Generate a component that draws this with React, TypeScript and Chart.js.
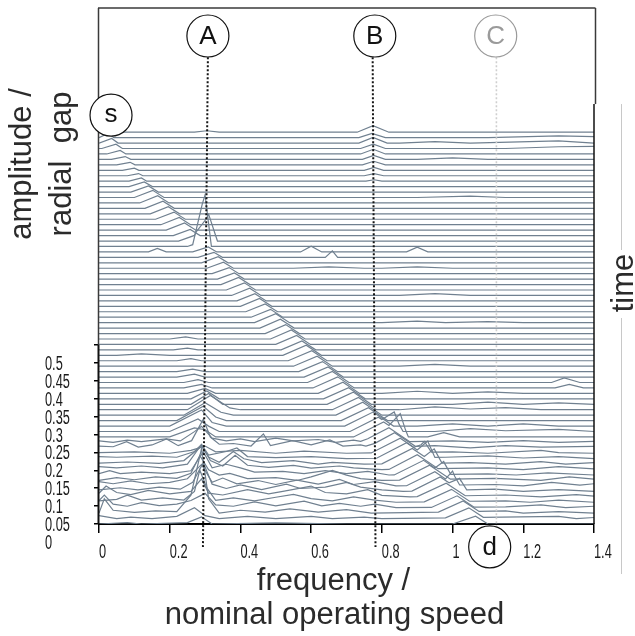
import React, { useEffect, useRef } from "react";
import { Chart, registerables } from "chart.js";
Chart.register(...registerables);

// ---------- data ----------
const TRACE_COUNT = 73; // spectra in the waterfall, index 0 = top
const TRACE_STEP = 0.0152; // vertical offset between successive spectra (amplitude units)

const xTicks = [0, 0.2, 0.4, 0.6, 0.8, 1, 1.2, 1.4];
const xTickLabels = ["0", "0.2", "0.4", "0.6", "0.8", "1", "1.2", "1.4"];
const yTicks = [0, 0.05, 0.1, 0.15, 0.2, 0.25, 0.3, 0.35, 0.4, 0.45, 0.5];
const yTickLabels = ["0", "0.05", "0.1", "0.15", "0.2", "0.25", "0.3", "0.35", "0.4", "0.45", "0.5"];

// sweeping component (s -> d): start, peak frequency, peak amplitude, end per spectrum
const sweepStart = [
  0, 0, 0, 0.008, 0.022, 0.035, 0.05, 0.066, 0.08, 0.085,
  0.085, 0.09, 0.1, 0.115, 0.13, 0.145, 0.16, 0.175, 0.19, 0.21,
  0.225, 0.25, 0.265, 0.28, 0.29, 0.305, 0.32, 0.335, 0.345, 0.36,
  0.375, 0.39, 0.4, 0.415, 0.43, 0.44, 0.455, 0.47, 0.485, 0.5,
  0.515, 0.52, 0.535, 0.55, 0.565, 0.58, 0.59, 0.605, 0.62, 0.635,
  0.645, 0.66, 0.67, 0.685, 0.695, 0.71, 0.72, 0.74, 0.755, 0.77,
  0.785, 0.8, 0.82, 0.835, 0.85, 0.87, 0.885, 0.9, 0.92, 0.94,
  0.96, 0.98, 1.0,
];
const sweepPeak = [
  0, 0.025, 0.036, 0.048, 0.06, 0.074, 0.088, 0.1, 0.112, 0.12,
  0.128, 0.14, 0.152, 0.166, 0.181, 0.196, 0.212, 0.227, 0.242, 0.258,
  0.274, 0.292, 0.309, 0.325, 0.337, 0.352, 0.368, 0.383, 0.395, 0.411,
  0.426, 0.441, 0.454, 0.47, 0.485, 0.5, 0.513, 0.528, 0.544, 0.559,
  0.574, 0.586, 0.602, 0.617, 0.632, 0.648, 0.66, 0.675, 0.69, 0.706,
  0.719, 0.734, 0.746, 0.762, 0.775, 0.79, 0.805, 0.82, 0.836, 0.852,
  0.87, 0.886, 0.9, 0.918, 0.935, 0.95, 0.965, 0.982, 0.997, 1.013,
  1.03, 1.046, 1.065,
];
const sweepAmp = [
  0, 0.012, 0.013, 0.012, 0.01, 0.008, 0.007, 0.006, 0.006, 0.009,
  0.013, 0.017, 0.02, 0.02, 0.02, 0.02, 0.02, 0.02, 0.02, 0.017,
  0.017, 0.014, 0.014, 0.014, 0.017, 0.017, 0.017, 0.017, 0.02, 0.02,
  0.02, 0.02, 0.022, 0.022, 0.022, 0.025, 0.025, 0.025, 0.025, 0.025,
  0.025, 0.028, 0.028, 0.028, 0.028, 0.028, 0.031, 0.031, 0.031, 0.031,
  0.034, 0.034, 0.036, 0.036, 0.039, 0.04, 0.042, 0.04, 0.04, 0.04,
  0.042, 0.042, 0.04, 0.04, 0.04, 0.038, 0.038, 0.036, 0.034, 0.032,
  0.03, 0.027, 0.022,
];
const sweepEnd = [
  0, 0.042, 0.054, 0.066, 0.076, 0.09, 0.102, 0.113, 0.124, 0.135,
  0.151, 0.168, 0.184, 0.198, 0.213, 0.228, 0.244, 0.259, 0.274, 0.286,
  0.302, 0.316, 0.333, 0.349, 0.365, 0.38, 0.396, 0.411, 0.427, 0.443,
  0.458, 0.473, 0.489, 0.505, 0.52, 0.539, 0.552, 0.567, 0.583, 0.598,
  0.613, 0.629, 0.645, 0.66, 0.675, 0.691, 0.707, 0.722, 0.737, 0.753,
  0.77, 0.785, 0.8, 0.816, 0.833, 0.849, 0.867, 0.879, 0.895, 0.911,
  0.932, 0.948, 0.959, 0.977, 0.994, 1.006, 1.021, 1.036, 1.048, 1.061,
  1.075, 1.087, 1.1,
];

// B component (spectrum index, [freq, amp, ...])
const bComponent: [number, number[]][] = [
  [0, [0.73, 0, 0.775, 0.018, 0.82, 0]],
  [1, [0.735, 0, 0.772, 0.012, 0.81, 0]],
  [2, [0.735, 0, 0.775, 0.016, 0.815, 0]],
  [3, [0.74, 0, 0.776, 0.012, 0.81, 0]],
  [4, [0.74, 0, 0.776, 0.013, 0.81, 0]],
  [5, [0.745, 0, 0.777, 0.011, 0.81, 0]],
  [6, [0.745, 0, 0.777, 0.01, 0.81, 0]],
  [7, [0.75, 0, 0.778, 0.008, 0.805, 0]],
  [8, [0.75, 0, 0.778, 0.006, 0.805, 0]],
  [9, [0.755, 0, 0.778, 0.004, 0.8, 0]],
];

// A component
const aComponent: [number, number[]][] = [
  [0, [0.27, 0, 0.305, 0.004, 0.34, 0]],
  [20, [0.27, 0, 0.31, 0.075, 0.335, 0]],
  [21, [0.265, 0, 0.3, 0.135, 0.318, 0]],
  [38, [0.2, 0, 0.245, 0.006, 0.28, 0]],
  [40, [0.21, 0, 0.25, 0.005, 0.28, 0]],
  [42, [0.22, 0, 0.26, 0.006, 0.29, 0]],
  [44, [0.22, 0, 0.265, 0.007, 0.3, 0]],
  [45, [0.22, 0, 0.27, 0.008, 0.3, 0]],
  [46, [0.24, 0, 0.28, 0.008, 0.31, 0]],
  [47, [0.24, 0, 0.29, 0.01, 0.32, 0]],
  [48, [0.25, 0, 0.3, 0.014, 0.33, 0]],
  [49, [0.26, 0, 0.305, 0.022, 0.34, 0]],
  [50, [0.26, 0, 0.31, 0.03, 0.35, 0]],
  [51, [0.25, 0, 0.315, 0.04, 0.37, 0.005, 0.4, 0]],
  [52, [0.24, 0, 0.3, 0.035, 0.345, 0.008, 0.38, 0]],
  [53, [0.22, 0, 0.295, 0.04, 0.33, 0.01, 0.36, 0]],
  [54, [0.2, 0, 0.29, 0.045, 0.32, 0.01, 0.36, 0]],
  [55, [0.2, 0, 0.28, 0.035, 0.31, 0.015, 0.34, 0]],
  [56, [0.2, 0, 0.27, 0.025, 0.3, 0.02, 0.33, 0]],
];

// small undulations and isolated components
const minorComponents: [number, number[]][] = [
  [1, [1.1, 0, 1.3, 0.005, 1.4, 0.003]],
  [2, [0.85, 0, 0.95, 0.004, 1.05, 0, 1.3, 0.006, 1.4, 0]],
  [3, [1.15, 0, 1.3, 0.005, 1.4, 0.006]],
  [5, [0.9, 0, 1.0, 0.004, 1.1, 0]],
  [12, [0.9, 0, 1.05, 0.004, 1.15, 0]],
  [22, [0.14, 0, 0.165, 0.01, 0.19, 0, 0.57, 0, 0.6, 0.016, 0.63, 0, 0.87, 0, 0.9, 0.013, 0.93, 0]],
  [23, [0.64, 0, 0.66, 0.018, 0.675, 0]],
  [25, [0.55, 0, 0.65, 0.004, 0.75, 0, 0.8, 0, 0.9, 0.004, 1.0, 0]],
  [30, [0.85, 0, 0.95, 0.005, 1.05, 0]],
  [35, [0.8, 0, 0.9, 0.004, 0.98, 0, 1.1, 0.003, 1.2, 0]],
  [41, [0.05, 0, 0.12, 0.004, 0.2, 0]],
  [43, [0.85, 0, 0.95, 0.005, 1.05, 0]],
  [46, [1.28, 0, 1.316, 0.013, 1.36, 0]],
  [47, [1.29, 0, 1.33, 0.01, 1.37, 0]],
  [48, [0.8, 0, 0.9, 0.006, 1.0, 0, 1.1, 0.004, 1.2, 0]],
  [50, [1.0, 0, 1.1, 0.006, 1.2, 0, 1.3, 0.004, 1.4, 0]],
  [51, [0.85, 0, 0.95, 0.008, 1.05, 0.002, 1.15, 0.006, 1.25, 0]],
  [54, [0.9, 0, 1.0, 0.006, 1.1, 0, 1.2, 0.006, 1.3, 0]],
  [55, [0.95, 0, 1.05, 0.008, 1.15, 0.002, 1.3, 0.006, 1.4, 0]],
  [56, [0.93, 0, 0.975, 0.012, 1.02, 0]],
  [55, [0.8, 0, 0.835, 0.045, 0.86, 0]],
  [56, [0.82, 0, 0.852, 0.055, 0.875, 0]],
  [59, [0.89, 0, 0.92, 0.03, 0.94, 0]],
  [60, [0.9, 0, 0.93, 0.045, 0.95, 0]],
  [61, [0.92, 0, 0.948, 0.04, 0.97, 0]],
  [63, [0.95, 0, 0.975, 0.035, 0.995, 0]],
  [65, [0.98, 0, 1.0, 0.035, 1.02, 0]],
  [66, [0.99, 0, 1.02, 0.032, 1.04, 0]],
];

// broadband spectra at the end of the run
const lateSpectra: [number, number[]][] = [
  [57, [0, 0.004, 0.04, 0, 0.08, 0.006, 0.12, 0.002, 0.19, 0.01, 0.23, 0.004, 0.27, 0.03, 0.29, 0.045, 0.32, 0.012, 0.36, 0.004, 0.4, 0.01, 0.44, 0.002, 0.5, 0.012, 0.55, 0.004, 0.62, 0.008, 0.67, 0, 0.72, 0.006, 0.76, 0, 1.0, 0.004, 1.1, 0, 1.2, 0.005, 1.3, 0, 1.4, 0.003]],
  [58, [0, 0.005, 0.04, 0.003, 0.078, 0.017, 0.111, 0.002, 0.15, 0.008, 0.191, 0.025, 0.224, 0.006, 0.262, 0.02, 0.295, 0.08, 0.315, 0.03, 0.34, 0.01, 0.38, 0.012, 0.43, 0.005, 0.465, 0.039, 0.485, 0.006, 0.548, 0.02, 0.6, 0.008, 0.653, 0.022, 0.69, 0.005, 0.74, 0.008, 0.78, 0, 0.95, 0.006, 1.05, 0, 1.15, 0.006, 1.25, 0.002, 1.4, 0.004]],
  [59, [0, 0.002, 0.1, 0.004, 0.2, 0, 0.26, 0.008, 0.3, 0.02, 0.33, 0.004, 0.4, 0.008, 0.5, 0, 0.58, 0.006, 0.7, 0, 1.0, 0.004, 1.1, 0, 1.25, 0.008, 1.3, 0.002, 1.4, 0]],
  [60, [0, 0.006, 0.05, 0.004, 0.15, 0.007, 0.22, 0.004, 0.27, 0.02, 0.29, 0.04, 0.31, 0.01, 0.36, 0.02, 0.39, 0.03, 0.42, 0.006, 0.5, 0.003, 0.6, 0.006, 0.7, 0, 0.98, 0.004, 1.1, 0.008, 1.2, 0.002, 1.3, 0.006, 1.4, 0]],
  [61, [0, 0.003, 0.08, 0.006, 0.17, 0.002, 0.24, 0.01, 0.29, 0.05, 0.31, 0.02, 0.34, 0.005, 0.38, 0.035, 0.41, 0.015, 0.46, 0.004, 0.55, 0.01, 0.62, 0, 0.66, 0.005, 0.75, 0, 1.05, 0.004, 1.15, 0, 1.25, 0.007, 1.32, 0, 1.4, 0.004]],
  [62, [0, 0.008, 0.05, 0.005, 0.12, 0.01, 0.18, 0.005, 0.25, 0.015, 0.29, 0.07, 0.315, 0.025, 0.35, 0.01, 0.385, 0.04, 0.42, 0.012, 0.48, 0.006, 0.55, 0.012, 0.6, 0.004, 0.68, 0.01, 0.72, 0.005, 0.8, 0, 1.1, 0.005, 1.2, 0, 1.3, 0.008, 1.4, 0.002]],
  [63, [0, 0.004, 0.03, 0.012, 0.06, 0.004, 0.12, 0.008, 0.2, 0.004, 0.26, 0.012, 0.295, 0.065, 0.32, 0.02, 0.36, 0.03, 0.4, 0.02, 0.44, 0.008, 0.52, 0.01, 0.58, 0.004, 0.64, 0.012, 0.7, 0.004, 0.76, 0.01, 0.82, 0, 1.1, 0.003, 1.18, 0, 1.27, 0.006, 1.4, 0]],
  [64, [0, 0, 0.05, 0.008, 0.1, 0.002, 0.16, 0.01, 0.22, 0.006, 0.26, 0.02, 0.285, 0.07, 0.31, 0.03, 0.34, 0.015, 0.37, 0.02, 0.42, 0.005, 0.5, 0.008, 0.56, 0, 0.6, 0.01, 0.66, 0.028, 0.7, 0.015, 0.74, 0.005, 0.8, 0, 1.12, 0.006, 1.25, 0, 1.33, 0.01, 1.4, 0.004]],
  [65, [0, 0.012, 0.04, 0.006, 0.09, 0.014, 0.14, 0.006, 0.2, 0.01, 0.25, 0.02, 0.29, 0.06, 0.32, 0.01, 0.35, 0.022, 0.39, 0.006, 0.45, 0.015, 0.5, 0.004, 0.56, 0.016, 0.62, 0.005, 0.68, 0.018, 0.72, 0.004, 0.78, 0.012, 0.84, 0, 1.12, 0.004, 1.2, 0, 1.28, 0.01, 1.36, 0.002, 1.4, 0.006]],
  [66, [0, 0.004, 0.06, 0.01, 0.11, 0.004, 0.17, 0.012, 0.23, 0.006, 0.265, 0.025, 0.295, 0.08, 0.32, 0.02, 0.36, 0.008, 0.4, 0.018, 0.46, 0.005, 0.53, 0.02, 0.57, 0.008, 0.64, 0.012, 0.7, 0.025, 0.74, 0.012, 0.8, 0.004, 0.86, 0, 1.12, 0.006, 1.2, 0, 1.3, 0.005, 1.4, 0]],
  [67, [0, 0.01, 0.02, 0.03, 0.05, 0.012, 0.09, 0.006, 0.14, 0.018, 0.2, 0.008, 0.26, 0.015, 0.29, 0.05, 0.31, 0.01, 0.35, 0.005, 0.42, 0.02, 0.48, 0.008, 0.52, 0.015, 0.6, 0.03, 0.64, 0.012, 0.7, 0.008, 0.76, 0.02, 0.8, 0.004, 0.88, 0, 1.15, 0.005, 1.25, 0, 1.35, 0.006, 1.4, 0.002]],
  [68, [0, 0.004, 0.05, 0.008, 0.08, 0.02, 0.12, 0.006, 0.18, 0.012, 0.24, 0.006, 0.27, 0.03, 0.285, 0.09, 0.305, 0.04, 0.33, 0.005, 0.38, 0.012, 0.44, 0.004, 0.5, 0.014, 0.55, 0.022, 0.6, 0.01, 0.66, 0.004, 0.72, 0.015, 0.78, 0.006, 0.84, 0, 1.15, 0.004, 1.22, 0, 1.3, 0.006, 1.4, 0]],
  [69, [0, 0.02, 0.015, 0.035, 0.04, 0.01, 0.08, 0.004, 0.12, 0.014, 0.17, 0.006, 0.22, 0.01, 0.26, 0.02, 0.3, 0.04, 0.33, 0.008, 0.38, 0.004, 0.44, 0.016, 0.5, 0.005, 0.58, 0.018, 0.63, 0.005, 0.68, 0.012, 0.74, 0.004, 0.78, 0.01, 0.84, 0, 1.15, 0.002, 1.25, 0.008, 1.32, 0, 1.4, 0.004]],
  [70, [0, 0, 0.015, 0.04, 0.04, 0.008, 0.1, 0.002, 0.16, 0.006, 0.22, 0.004, 0.26, 0.05, 0.29, 0.18, 0.31, 0.04, 0.34, 0, 0.4, 0.008, 0.47, 0.003, 0.54, 0.012, 0.62, 0.003, 0.7, 0.01, 0.77, 0, 1.15, 0.006, 1.2, 0, 1.3, 0.004, 1.4, 0]],
  [71, [0, 0.008, 0.05, 0, 0.09, 0.004, 0.15, 0, 0.22, 0.006, 0.27, 0.03, 0.3, 0.008, 0.34, 0, 0.42, 0.006, 0.5, 0, 0.6, 0.006, 0.66, 0, 0.75, 0.004, 0.8, 0, 1.3, 0.006, 1.35, 0, 1.4, 0.003]],
  [72, [0, 0, 0.08, 0.004, 0.12, 0, 0.25, 0.004, 0.29, 0.02, 0.32, 0, 0.5, 0.003, 0.7, 0, 1.38, 0]],
];

// reference frequencies
const markerLabels = ["A", "B", "C"];
const markerTopFreq = [0.308, 0.774, 1.124];
const markerBottomFreq = [0.294, 0.782, 1.124];
const markerCircleFreq = [0.308, 0.78, 1.122];
const markerTopAmp = 1.304;
const markerBottomAmp = [-0.064, -0.064, -0.01];

// ---------- helpers ----------
const TRACE_COLOR = "#708090";
const TEXT_COLOR = "#2b2b2b";
const SANS = '"Liberation Sans", Arial, Helvetica, sans-serif';

function evalFeature(p: number[], f: number): number {
  const n = p.length / 2;
  if (f < p[0] || f > p[2 * (n - 1)]) return 0;
  for (let i = 0; i < n - 1; i++) {
    const f0 = p[2 * i];
    const f1 = p[2 * i + 2];
    if (f >= f0 && f <= f1) {
      if (f1 === f0) return p[2 * i + 1];
      const t = (f - f0) / (f1 - f0);
      return p[2 * i + 1] + t * (p[2 * i + 3] - p[2 * i + 1]);
    }
  }
  return p[2 * n - 1];
}

function buildTrace(k: number) {
  const feats: number[][] = [];
  if (sweepAmp[k] > 0) feats.push([sweepStart[k], 0, sweepPeak[k], sweepAmp[k], sweepEnd[k], 0]);
  [bComponent, aComponent, minorComponents, lateSpectra].forEach((list) =>
    list.forEach(([kk, pts]) => {
      if (kk === k) feats.push(pts);
    })
  );
  const fs = new Set<number>([0, 1.4]);
  feats.forEach((p) => {
    for (let i = 0; i < p.length; i += 2) fs.add(p[i]);
  });
  const sorted = Array.from(fs).sort((a, b) => a - b);
  const base = (TRACE_COUNT - 1 - k) * TRACE_STEP;
  return sorted.map((f) => ({ x: f, y: base + feats.reduce((s, p) => s + evalFeature(p, f), 0) }));
}

const decorPlugin = {
  id: "decor",
  afterDraw(chart: any) {
    const { ctx, chartArea, scales } = chart;
    const xs = scales.x;
    const ys = scales.y;
    const L = chartArea.left;
    const R = chartArea.right;
    const T = chartArea.top;
    const B = chartArea.bottom;
    const line = (x1: number, y1: number, x2: number, y2: number) => {
      ctx.beginPath();
      ctx.moveTo(x1, y1);
      ctx.lineTo(x2, y2);
      ctx.stroke();
    };
    ctx.save();
    const y05 = ys.getPixelForValue(0.5);
    const split = ys.getPixelForValue(1.173);
    // frame
    ctx.strokeStyle = "#3a3a3a";
    ctx.lineWidth = 1.5;
    line(L - 1, T, R + 1.5, T);
    line(L - 0.5, T, L - 0.5, y05);
    line(R + 1.5, T, R + 1.5, split);
    ctx.strokeStyle = "#111";
    line(R, split, R, B);
    // amplitude axis
    ctx.lineWidth = 2;
    line(L - 0.5, y05, L - 0.5, B);

    // condensed tick labels
    const narrowText = (txt: string, x: number, y: number) => {
      ctx.save();
      ctx.translate(x, y);
      ctx.scale(0.64, 1);
      ctx.font = "20px " + SANS;
      ctx.fillStyle = "#1a1a1a";
      ctx.textAlign = "left";
      ctx.textBaseline = "alphabetic";
      ctx.fillText(txt, 0, 0);
      ctx.restore();
    };
    xTicks.forEach((v, i) => narrowText(xTickLabels[i], xs.getPixelForValue(v), 558));
    yTicks.forEach((v, i) => narrowText(yTickLabels[i], 45, ys.getPixelForValue(v) + 18 + 7));

    // circles
    const circle = (cx: number, cy: number, txt: string, color: string, dy: number) => {
      ctx.beginPath();
      ctx.arc(cx, cy, 21, 0, Math.PI * 2);
      ctx.fillStyle = "#fff";
      ctx.fill();
      ctx.strokeStyle = color;
      ctx.lineWidth = 1.2;
      ctx.stroke();
      ctx.fillStyle = color;
      ctx.font = "26px " + SANS;
      ctx.textAlign = "center";
      ctx.textBaseline = "middle";
      ctx.fillText(txt, cx, cy + dy);
    };
    markerLabels.forEach((lab, i) => {
      circle(xs.getPixelForValue(markerCircleFreq[i]), T + 28, lab, i === 2 ? "#9a9a9a" : "#111", 1);
    });
    circle(xs.getPixelForValue(0.034), ys.getPixelForValue(1.142), "s", "#111", 0);
    circle(xs.getPixelForValue(1.105), ys.getPixelForValue(-0.064), "d", "#111", 1);

    // titles
    ctx.fillStyle = TEXT_COLOR;
    ctx.font = "31px " + SANS;
    ctx.textAlign = "center";
    ctx.textBaseline = "alphabetic";
    ctx.save();
    ctx.translate(31, 164);
    ctx.rotate(-Math.PI / 2);
    ctx.fillText("amplitude /", 0, 0);
    ctx.restore();
    ctx.save();
    ctx.translate(71, 164);
    ctx.rotate(-Math.PI / 2);
    ctx.fillText("radial  gap", 0, 0);
    ctx.restore();
    const cx = (L + R) / 2 - 13;
    ctx.fillText("frequency /", cx, 590);
    ctx.fillText("nominal operating speed", cx + 1, 624);

    // time axis
    ctx.strokeStyle = "#c8c8c8";
    ctx.lineWidth = 1;
    const tx = R + 27.5;
    line(tx, split, tx, 250);
    line(tx, 318, tx, 574);
    ctx.save();
    ctx.translate(tx + 11, 283);
    ctx.rotate(-Math.PI / 2);
    ctx.fillStyle = TEXT_COLOR;
    ctx.fillText("time", 0, 0);
    ctx.restore();
    ctx.restore();
  },
};

export default function App() {
  const ref = useRef<HTMLCanvasElement | null>(null);
  useEffect(() => {
    if (!ref.current) return;
    const datasets: any[] = [];
    markerLabels.forEach((_, i) => {
      datasets.push({
        data: [
          { x: markerTopFreq[i], y: markerTopAmp },
          { x: markerBottomFreq[i], y: markerBottomAmp[i] },
        ],
        borderColor: i === 2 ? "#cfcfcf" : "#151515",
        borderWidth: i === 2 ? 1.6 : 2,
        borderDash: [2, 2],
        pointRadius: 0,
        clip: false,
        order: 0,
      });
    });
    for (let k = 0; k < TRACE_COUNT; k++) {
      datasets.push({
        data: buildTrace(k),
        borderColor: TRACE_COLOR,
        borderWidth: 1.2,
        pointRadius: 0,
        tension: 0,
        order: 1,
      });
    }
    const chart = new Chart(ref.current, {
      type: "line",
      data: { datasets },
      options: {
        animation: false,
        responsive: false,
        devicePixelRatio: 1,
        layout: { padding: { left: 45, right: 41, top: 8, bottom: 72 } },
        plugins: { legend: { display: false }, tooltip: { enabled: false } },
        scales: {
          x: {
            type: "linear",
            min: 0,
            max: 1.4,
            afterBuildTicks: (s: any) => {
              s.ticks = xTicks.map((v) => ({ value: v }));
            },
            afterFit: (s: any) => {
              s.height = 40;
              s.paddingLeft = 0;
              s.paddingRight = 0;
            },
            ticks: { display: false, autoSkip: false },
            grid: { display: true, drawOnChartArea: false, drawTicks: true, tickLength: 9, color: "#000", lineWidth: 1.5 },
            border: { display: true, color: "#000", width: 2 },
          },
          y: {
            type: "linear",
            min: 0,
            max: 1.4413,
            afterBuildTicks: (s: any) => {
              s.ticks = yTicks.map((v) => ({ value: v }));
            },
            afterFit: (s: any) => {
              s.width = 54;
              s.paddingTop = 0;
              s.paddingBottom = 0;
            },
            ticks: { display: false, autoSkip: false },
            grid: { display: true, drawOnChartArea: false, drawTicks: true, tickLength: 5, color: "#000", lineWidth: 1.5 },
            border: { display: false },
          },
        },
      },
      plugins: [decorPlugin],
    } as any);
    return () => chart.destroy();
  }, []);
  return (
    <div style={{ position: "absolute", left: 0, top: 0, width: 635, height: 636, background: "#fff" }}>
      <canvas ref={ref} width={635} height={636} style={{ width: 635, height: 636, display: "block" }} />
    </div>
  );
}
